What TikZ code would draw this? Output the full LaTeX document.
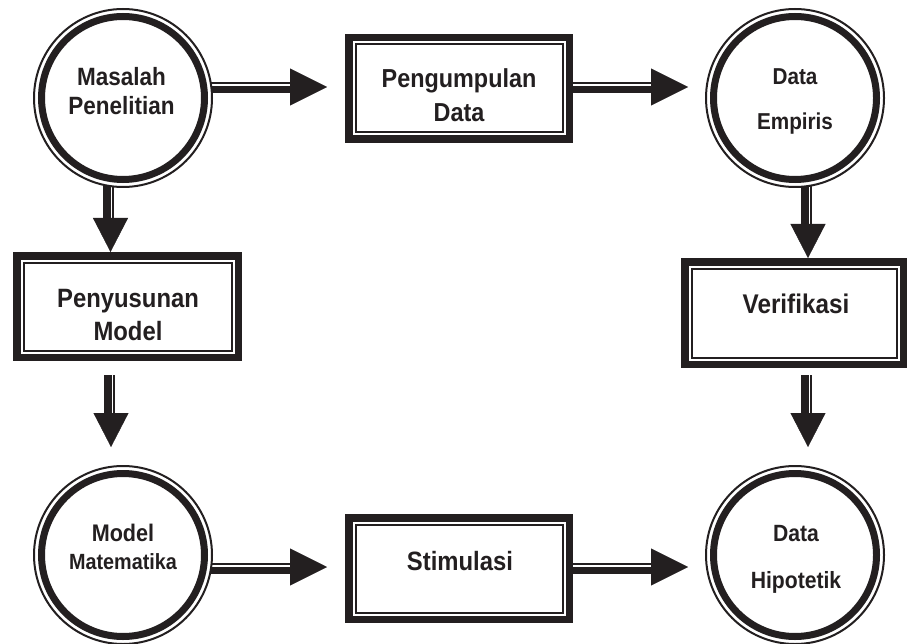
\documentclass[tikz,border=0pt]{standalone}
\usepackage{fontspec}
\setmainfont[FakeStretch=0.9]{Liberation Sans}
\usetikzlibrary{arrows.meta,calc}
\definecolor{ink}{HTML}{231F20}
\newcommand{\mylines}[2]{\begin{tabular}[t]{@{}c@{}}#1\\#2\end{tabular}}
\begin{document}
\begin{tikzpicture}[x=1pt,y=-1pt,
  circ/.style={circle, minimum size=178pt, inner sep=0pt, outer sep=0pt},
  rbox/.style={rectangle, draw=ink, line width=7.5pt, inner sep=0pt, outer sep=3.75pt},
  thinline/.style={draw=ink, line width=2pt},
  thickring/.style={draw=ink, line width=7pt},
  txt/.style={anchor=base, inner sep=0pt, text=ink},
  hx/.style={draw=ink, line width=0.4pt, -{Triangle[width=37pt,length=37pt]},
     preaction={draw=ink, -, line width=2pt, shorten >=20pt, transform canvas={yshift=3.5pt}},
     preaction={draw=ink, -, line width=7pt, shorten >=20pt, transform canvas={yshift=-3pt}}},
  vx/.style={draw=ink, line width=0.4pt, -{Triangle[width=35pt,length=34pt]},
     preaction={draw=ink, -, line width=7pt, shorten >=20pt, transform canvas={xshift=-4pt}},
     preaction={draw=ink, -, line width=2pt, shorten >=20pt, transform canvas={xshift=2.5pt}}},
]
\useasboundingbox[fill=white] (0,0) rectangle (909,644);

% shapes
\node[circ] (A) at (123,98) {};
\node[circ] (C) at (795,98) {};
\node[circ] (F) at (123,555) {};
\node[circ] (H) at (795,555) {};
\foreach \n in {A,C,F,H}{
  \draw[thinline] (\n.center) circle[radius=89pt];
  \draw[thickring] (\n.center) circle[radius=81.5pt];
}
\node[rbox, minimum width=220.5pt, minimum height=101.5pt] (B) at (459,88.5) {};
\node[rbox, minimum width=221.5pt, minimum height=101.5pt] (D) at (127.5,306.5) {};
\node[rbox, minimum width=218.5pt, minimum height=102.5pt] (E) at (794,313) {};
\node[rbox, minimum width=220.5pt, minimum height=101.5pt] (G) at (459,568.5) {};
\foreach \n in {B,D,E,G}{
  \draw[thinline] ($(\n.north west)+(10.5,10.5)$) rectangle ($(\n.south east)+(-10.5,-10.5)$);
}

% texts
\node[txt, font=\fontsize{25}{29}\selectfont\bfseries] (tA) at (121.5,86) {\mylines{Masalah}{Penelitian}};
\node[txt, font=\fontsize{26}{34}\selectfont\bfseries] (tB) at (459,88) {\mylines{Pengumpulan}{Data}};
\node[txt, font=\fontsize{23}{45}\selectfont\bfseries] (tC) at (795,85) {\mylines{Data}{Empiris}};
\node[txt, font=\fontsize{26.5}{33}\selectfont\bfseries] (tD) at (128,307) {\mylines{Penyusunan}{Model}};
\node[txt, font=\fontsize{27}{33}\selectfont\bfseries] (tE) at (796,313) {Verifikasi};
\node[txt, font=\fontsize{22}{28}\selectfont\bfseries] (tF) at (123,541) {\mylines{\fontsize{24}{28}\selectfont Model}{Matematika}};
\node[txt, font=\fontsize{26.5}{33}\selectfont\bfseries] (tG) at (460,570) {Stimulasi};
\node[txt, font=\fontsize{23.5}{47}\selectfont\bfseries] (tH) at (796,541) {\mylines{Data}{Hipotetik}};

% connectors
\draw[hx] ($(A.center)+(88.3,-11)$) -- ($(B.west)+(-18,-1.5)$);
\draw[hx] ($(B.east)+(0,-1.5)$) -- ($(C.west)+(-18,-11)$);
\draw[vx] ($(A.center)+(-12.5,88.1)$) -- ($(D.north)+(-17,0)$);
\draw[vx] ($(D.south)+(-16.5,14)$) -- ($(F.north)+(-12,-19)$);
\draw[vx] ($(C.center)+(13,88)$) -- ($(E.north)+(14,0)$);
\draw[vx] ($(E.south)+(14,7)$) -- ($(H.north)+(13,-19)$);
\draw[hx] ($(F.center)+(88.2,12)$) -- ($(G.west)+(-18,-1.5)$);
\draw[hx] ($(G.east)+(0,-1.5)$) -- ($(H.west)+(-18,12)$);
\end{tikzpicture}
\end{document}
